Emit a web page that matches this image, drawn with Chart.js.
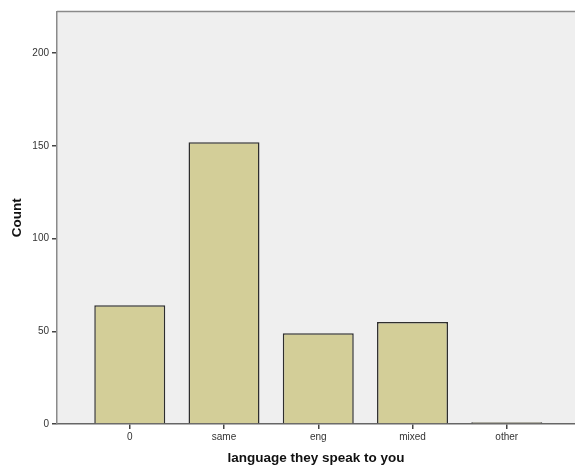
<!DOCTYPE html>
<html>
<head>
<meta charset="utf-8">
<script src="https://cdn.jsdelivr.net/npm/chart.js@4/dist/chart.umd.min.js"></script>
<style>
  body { margin: 0; background: #fff; }
  #wrap { width: 575px; height: 469px; }
</style>
</head>
<body>
<div id="wrap"><canvas id="grafica" width="575" height="469"></canvas></div>
<script>
const categories = ["0", "same", "eng", "mixed", "other"];
const counts = [64, 152, 49, 55, 1];
const yTicks = [0, 50, 100, 150, 200];

const grafica = document.getElementById('grafica');

// light grey plot area with a grey top edge, like the SPSS output
const plotBack = {
  id: 'plotBack',
  beforeDraw(chart) {
    const { ctx, chartArea: a } = chart;
    ctx.save();
    ctx.fillStyle = '#efefef';
    ctx.fillRect(a.left, a.top, a.right - a.left, a.bottom - a.top);
    ctx.strokeStyle = '#8a8a8a';
    ctx.lineWidth = 1.5;
    ctx.beginPath();
    ctx.moveTo(a.left, a.top);
    ctx.lineTo(a.right, a.top);
    ctx.stroke();
    ctx.restore();
  }
};

const tickFont = { family: 'Liberation Sans, Arial, sans-serif', size: 10 };
const titleFont = { family: 'Liberation Sans, Arial, sans-serif', size: 13.5, weight: 'bold' };

let myChart = new Chart(grafica, {
  type: 'bar',
  data: {
    datasets: [{
      data: counts.map((v, i) => ({ x: i, y: v })),
      backgroundColor: '#d3ce98',
      borderColor: '#2e2e2e',
      borderWidth: 1.5,
      barPercentage: 0.753,
      categoryPercentage: 1
    }]
  },
  options: {
    responsive: false,
    animation: false,
    layout: { padding: { top: 11.5, right: 0, left: 0, bottom: 0 } },
    scales: {
      x: {
        type: 'linear',
        offset: false,
        min: -0.772,
        max: 4.724,
        afterBuildTicks: s => { s.ticks = categories.map((c, i) => ({ value: i })); },
        afterFit: s => { s.height = 45; },
        ticks: {
          callback: v => categories[v],
          color: '#333',
          font: tickFont,
          padding: 2,
          maxRotation: 0
        },
        grid: { offset: false, drawOnChartArea: false, tickLength: 5, color: '#444', lineWidth: 1.5 },
        border: { color: '#666', width: 1.5 },
        title: {
          display: true,
          text: 'language they speak to you',
          color: '#111',
          font: titleFont,
          padding: { top: 0, bottom: 3 }
        }
      },
      y: {
        min: 0,
        max: 222.5,
        afterBuildTicks: s => { s.ticks = yTicks.map(v => ({ value: v })); },
        afterFit: s => { s.width = 57; },
        ticks: { color: '#333', font: tickFont, padding: 3 },
        grid: { drawOnChartArea: false, tickLength: 5, color: '#444', lineWidth: 1.5 },
        border: { color: '#8a8a8a', width: 1.5 },
        title: {
          display: true,
          text: 'Count',
          color: '#111',
          font: titleFont,
          padding: { top: 9, bottom: 0 }
        }
      }
    },
    plugins: {
      legend: { display: false },
      tooltip: { enabled: false }
    }
  },
  plugins: [plotBack]
});
</script>
</body>
</html>
